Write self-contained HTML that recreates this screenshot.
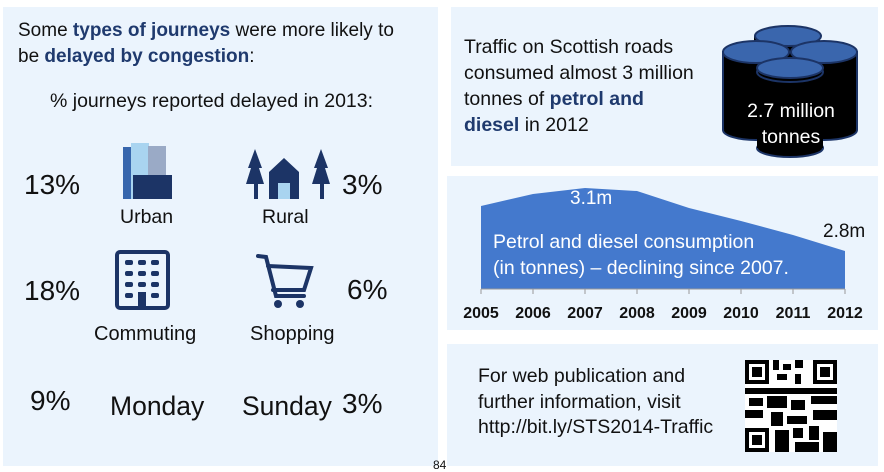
<!DOCTYPE html>
<html><head><meta charset="utf-8"><style>
body{margin:0;width:884px;height:472px;background:#fff;position:relative;overflow:hidden;font-family:"Liberation Sans",sans-serif;color:#111}
.p{position:absolute;background:#ebf4fd}
.t{position:absolute;white-space:nowrap}
.b{color:#1f3a6e;font-weight:bold}
</style></head><body>
<div class="p" style="left:3px;top:7px;width:435px;height:459px"></div>
<div class="p" style="left:451px;top:7px;width:427px;height:159px"></div>
<div class="p" style="left:447px;top:176px;width:431px;height:154px"></div>
<div class="p" style="left:447px;top:344px;width:431px;height:122px"></div>

<div class="t" style="left:18px;top:18px;font-size:19px;line-height:26px">Some <span class="b">types of journeys</span> were more likely to<br>be <span class="b">delayed by congestion</span>:</div>
<div class="t" style="left:50px;top:89px;font-size:19.5px;line-height:24px">% journeys reported delayed in 2013:</div>

<div class="t" style="left:24px;top:169px;font-size:28px;line-height:32px">13%</div>
<div class="t" style="left:342px;top:169px;font-size:28px;line-height:32px">3%</div>
<div class="t" style="left:24px;top:275px;font-size:28px;line-height:32px">18%</div>
<div class="t" style="left:347px;top:274px;font-size:28px;line-height:32px">6%</div>
<div class="t" style="left:30px;top:385px;font-size:28px;line-height:32px">9%</div>
<div class="t" style="left:110px;top:390px;font-size:26.5px;line-height:32px">Monday</div>
<div class="t" style="left:242px;top:390px;font-size:26.5px;line-height:32px">Sunday</div>
<div class="t" style="left:342px;top:388px;font-size:28px;line-height:32px">3%</div>
<div class="t" style="left:120px;top:205px;font-size:19.5px;line-height:24px">Urban</div>
<div class="t" style="left:262px;top:205px;font-size:19.5px;line-height:24px">Rural</div>
<div class="t" style="left:94px;top:322px;font-size:20px;line-height:24px">Commuting</div>
<div class="t" style="left:250px;top:322px;font-size:20px;line-height:24px">Shopping</div>

<svg style="position:absolute;left:0;top:0" width="884" height="472">
<!-- urban -->
<rect x="123" y="147" width="18" height="52" fill="#3766ad"/>
<rect x="131" y="143" width="18" height="56" fill="#a9d4f0"/>
<rect x="148" y="146" width="18" height="53" fill="#9aaac6"/>
<rect x="133" y="175" width="39" height="24" fill="#1c3466"/>
<!-- rural -->
<g fill="#1c3466">
<polygon points="255,149 248,168 251,168 246,184 254,184 254,199 258,199 258,184 264,184 259,168 262,168"/>
<polygon points="321,149 314,168 317,168 312,184 320,184 320,199 324,199 324,184 330,184 325,168 328,168"/>
<polygon points="284,158 299,172 299,199 269,199 269,172"/>
</g>
<rect x="278" y="183" width="12" height="16" fill="#a9d4f0"/>
<!-- building -->
<rect x="117" y="252" width="51" height="56" rx="3" fill="none" stroke="#1c3466" stroke-width="4"/>
<g fill="#1c3466">
<rect x="125" y="260" width="8" height="5" rx="2"/><rect x="138" y="260" width="8" height="5" rx="2"/><rect x="151" y="260" width="8" height="5" rx="2"/>
<rect x="125" y="271" width="8" height="5" rx="2"/><rect x="138" y="271" width="8" height="5" rx="2"/><rect x="151" y="271" width="8" height="5" rx="2"/>
<rect x="125" y="282" width="8" height="5" rx="2"/><rect x="138" y="282" width="8" height="5" rx="2"/><rect x="151" y="282" width="8" height="5" rx="2"/>
<rect x="125" y="293" width="8" height="5" rx="2"/><rect x="138" y="292" width="8" height="16"/><rect x="151" y="293" width="8" height="5" rx="2"/>
</g>
<!-- cart -->
<g fill="none" stroke="#1c3466" stroke-width="4" stroke-linecap="round">
<path d="M258 256 L266 257 L276 296 L304 296"/>
<path d="M268 266 L311 268 L304 290 L273 290"/>
</g>
<g fill="#1c3466"><circle cx="278" cy="304" r="4"/><circle cx="300" cy="304" r="4"/></g>
<g fill="#ebf4fd"><circle cx="281" cy="273" r="2"/><circle cx="291" cy="273" r="2"/><circle cx="301" cy="273" r="2"/><circle cx="283" cy="283" r="2"/><circle cx="293" cy="283" r="2"/></g>

<!-- barrels -->
<g stroke="#1c3466" stroke-width="2">
<rect x="754" y="36" width="66" height="40" fill="#000" stroke="none"/>
<rect x="723" y="51" width="134" height="80" fill="#000" stroke="none"/>
<ellipse cx="756" cy="130" rx="33" ry="10" fill="#000"/>
<ellipse cx="824" cy="130" rx="33" ry="10" fill="#000"/>
<rect x="723" y="51" width="134" height="78" fill="#000" stroke="none"/>
<line x1="723" y1="51" x2="723" y2="130"/><line x1="857" y1="51" x2="857" y2="130"/>
<ellipse cx="790" cy="148" rx="33" ry="9" fill="#000"/>
<rect x="757" y="70" width="66" height="78" fill="#000" stroke="none"/>
<ellipse cx="788" cy="36" rx="33" ry="10" fill="#3a66ad"/>
<ellipse cx="756" cy="52" rx="33" ry="11" fill="#3a66ad"/>
<ellipse cx="824" cy="52" rx="33" ry="11" fill="#3a66ad"/>
<ellipse cx="790" cy="72" rx="33" ry="10" fill="#000"/>
<ellipse cx="790" cy="68" rx="33" ry="10" fill="#3a66ad"/>
</g>
<!-- area chart -->
<polygon points="481,289 481,206 533,194 585,188 637,191 689,208 741,221 793,235 845,251 845,289" fill="#4479cd"/>
<line x1="481" y1="289" x2="845" y2="289" stroke="#999" stroke-width="1"/>
<g stroke="#999"><line x1="481" y1="289" x2="481" y2="294"/><line x1="533" y1="289" x2="533" y2="294"/><line x1="585" y1="289" x2="585" y2="294"/><line x1="637" y1="289" x2="637" y2="294"/><line x1="689" y1="289" x2="689" y2="294"/><line x1="741" y1="289" x2="741" y2="294"/><line x1="793" y1="289" x2="793" y2="294"/><line x1="845" y1="289" x2="845" y2="294"/></g>
<g font-family="Liberation Sans" font-weight="bold" font-size="16" text-anchor="middle" fill="#111">
<text x="481" y="318">2005</text><text x="533" y="318">2006</text><text x="585" y="318">2007</text><text x="637" y="318">2008</text><text x="689" y="318">2009</text><text x="741" y="318">2010</text><text x="793" y="318">2011</text><text x="845" y="318">2012</text>
</g>
<!-- QR -->
<rect x="745" y="360" width="92" height="92" fill="#fff"/>
<g fill="#000">
<rect x="745" y="360" width="24" height="24"/><rect x="813" y="360" width="24" height="24"/><rect x="745" y="428" width="24" height="24"/>
<rect x="773" y="360" width="6" height="10"/><rect x="783" y="364" width="8" height="6"/><rect x="795" y="360" width="8" height="8"/><rect x="777" y="374" width="10" height="6"/><rect x="795" y="374" width="6" height="10"/>
<rect x="745" y="388" width="92" height="6"/><rect x="749" y="398" width="14" height="8"/><rect x="767" y="396" width="20" height="12"/><rect x="791" y="400" width="14" height="10"/><rect x="811" y="396" width="26" height="8"/>
<rect x="745" y="410" width="18" height="8"/><rect x="771" y="412" width="12" height="14"/><rect x="787" y="416" width="20" height="8"/><rect x="813" y="410" width="24" height="10"/>
<rect x="775" y="430" width="14" height="22"/><rect x="793" y="428" width="10" height="10"/><rect x="809" y="426" width="10" height="14"/><rect x="823" y="432" width="14" height="20"/><rect x="795" y="442" width="24" height="10"/>
</g>
<g fill="#fff"><rect x="749" y="364" width="16" height="16"/><rect x="817" y="364" width="16" height="16"/><rect x="749" y="432" width="16" height="16"/></g>
<g fill="#000"><rect x="752" y="367" width="10" height="10"/><rect x="820" y="367" width="10" height="10"/><rect x="752" y="435" width="10" height="10"/></g>
</svg>

<div class="t" style="left:464px;top:34px;font-size:19.5px;line-height:26px">Traffic on Scottish roads<br>consumed almost 3 million<br>tonnes of <span class="b">petrol and</span><br><span class="b">diesel</span> in 2012</div>
<div class="t" style="left:736px;top:98px;font-size:19.5px;line-height:26px;color:#fff;text-align:center;width:110px">2.7 million<br>tonnes</div>
<div class="t" style="left:570px;top:187px;font-size:19px;line-height:24px;color:#fff">3.1m</div>
<div class="t" style="left:823px;top:220px;font-size:19px;line-height:24px">2.8m</div>
<div class="t" style="left:493px;top:229px;font-size:19.5px;line-height:26px;color:#fff">Petrol and diesel consumption<br>(in tonnes) – declining since 2007.</div>
<div class="t" style="left:478px;top:364px;font-size:19.5px;line-height:25.5px">For web publication and<br>further information, visit<br>http://bit.ly/STS2014-Traffic</div>
<div class="t" style="left:433px;top:458px;font-size:12px">84</div>
</body></html>
